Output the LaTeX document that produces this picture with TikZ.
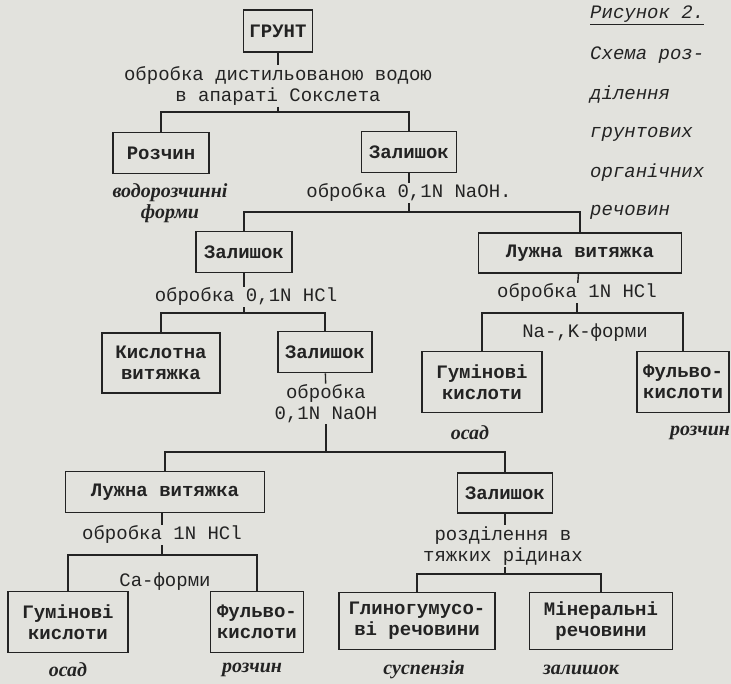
\documentclass[tikz,border=0pt]{standalone}
\usepackage{fontspec}
\setmainfont{Liberation Serif}
\newfontfamily\typefont{Liberation Mono}
\usepackage{tikz}

\definecolor{paper}{RGB}{226,226,221}
\definecolor{ink}{RGB}{35,35,35}

\tikzset{
  box/.style={draw=ink, line width=1.7pt, text=ink, align=center, inner sep=2pt,
    font=\typefont\bfseries\fontsize{19}{21}\selectfont},
  proc/.style={text=ink, align=center, inner sep=1pt,
    font=\typefont\fontsize{19}{21}\selectfont},
  res/.style={text=ink, align=center, inner sep=1pt,
    font=\bfseries\itshape\fontsize{20}{21}\selectfont},
  capt/.style={text=ink, anchor=west, inner sep=0pt,
    font=\typefont\itshape\fontsize{19}{21}\selectfont},
  link/.style={draw=ink, line width=1.4pt},
}

\begin{document}
\begin{tikzpicture}[x=1pt,y=-1pt]

% paper
\fill[paper] (0,0) rectangle (731,684);

% caption
\node[capt] (cap1) at (590,15) {\underline{Рисунок 2.}};
\node[capt] (cap2) at (590,55) {Схема роз-};
\node[capt] (cap3) at (590,95) {ділення};
\node[capt] (cap4) at (590,134) {грунтових};
\node[capt] (cap5) at (590,173) {органічних};
\node[capt] (cap6) at (590,212) {речовин};

% first step: water
\node[box, minimum width=69pt, minimum height=42pt] (grunt) at (278,31) {ГРУНТ};
\node[proc] (t1) at (278,86) {обробка дистильованою водою\\в апараті Сокслета};
\coordinate (j1) at (278,112);
\node[box, minimum width=96pt, minimum height=41pt] (rozchyn) at (161,153) {Розчин};
\node[box, minimum width=95pt, minimum height=41pt] (zal1) at (409,152) {Залишок};
\node[res] (lab1) at (170,203) {водорозчинні\\форми};

\draw[link] (grunt) -- (t1);
\draw[link] (t1) -- (j1);
\draw[link] (rozchyn) |- (j1) -| (zal1);

% second step: 0,1N NaOH
\node[proc] (t2) at (409,193) {обробка 0,1N NaOH.};
\coordinate (j2) at (409,212);
\node[box, minimum width=96pt, minimum height=41pt] (zal2) at (244,252) {Залишок};
\node[box, minimum width=203pt, minimum height=40pt] (luzhna1) at (580,253) {Лужна витяжка};

\draw[link] (zal1) -- (t2);
\draw[link] (t2) -- (j2);
\draw[link] (zal2) |- (j2) -| (luzhna1);

% acid residue
\node[proc] (t3) at (246,297) {обробка 0,1N HCl};
\coordinate (j3) at (244,313);
\node[box, minimum width=118pt, minimum height=60pt] (kysl) at (161,363) {Кислотна\\витяжка};
\node[box, minimum width=94pt, minimum height=41pt] (zal3) at (325,352) {Залишок};

\draw[link] (zal2) -- (zal2 |- t3.north);
\draw[link] (zal2 |- t3.south) -- (j3);
\draw[link] (kysl) |- (j3) -| (zal3);

\node[proc] (t4) at (326,404) {обробка\\0,1N NaOH};
\coordinate (j4) at (326,452);
\node[box, minimum width=199pt, minimum height=41pt] (luzhna2) at (165,492) {Лужна витяжка};
\node[box, minimum width=95pt, minimum height=40pt] (zal4) at (505,493) {Залишок};

\draw[link] (zal3) -- (t4);
\draw[link] (t4) -- (j4);
\draw[link] (luzhna2) |- (j4) -| (zal4);

% alkaline extract, right
\node[proc] (t5) at (577,293) {обробка 1N HCl};
\coordinate (j5) at (577,313);
\node[proc] (nak) at (585,333) {Na-,K-форми};
\node[box, minimum width=120pt, minimum height=61pt] (hum1) at (482,382) {Гумінові\\кислоти};
\node[box, minimum width=92pt, minimum height=61pt] (fulv1) at (683,382) {Фульво-\\кислоти};
\node[res] (osad1) at (470,433) {осад};
\node[res] (roz1) at (700,433) {розчин};

\draw[link] (luzhna1) -- (t5);
\draw[link] (t5) -- (j5);
\draw[link] (hum1) |- (j5) -| (fulv1);

% alkaline extract, left
\node[proc] (t6) at (162,535) {обробка 1N HCl};
\coordinate (j6) at (162,555);
\node[proc] (ca) at (165,582) {Ca-форми};
\node[box, minimum width=120pt, minimum height=61pt] (hum2) at (68,622) {Гумінові\\кислоти};
\node[box, minimum width=93pt, minimum height=61pt] (fulv2) at (257,622) {Фульво-\\кислоти};
\node[res] (osad2) at (68,670) {осад};
\node[res] (roz2) at (252,670) {розчин};

\draw[link] (luzhna2.south -| t6) -- (t6);
\draw[link] (t6) -- (j6);
\draw[link] (hum2) |- (j6) -| (fulv2);

% heavy liquids
\node[proc] (t7) at (503,546) {розділення в\\тяжких рідинах};
\coordinate (j7) at (505,574);
\node[box, minimum width=156pt, minimum height=57pt] (glyno) at (417,621) {Глиногумусо-\\ві речовини};
\node[box, minimum width=143pt, minimum height=57pt] (mineral) at (601,621) {Мінеральні\\речовини};
\node[res] (susp) at (424,670) {суспензія};
\node[res] (zal5) at (581,670) {залишок};

\draw[link] (zal4) -- (zal4 |- t7.north);
\draw[link] (zal4 |- t7.south) -- (j7);
\draw[link] (glyno) |- (j7) -| (mineral);

\end{tikzpicture}
\end{document}
